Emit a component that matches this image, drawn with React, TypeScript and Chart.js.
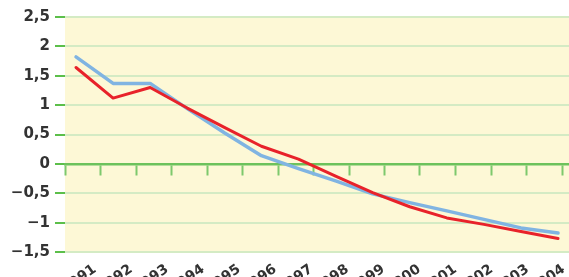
import React, { useEffect, useRef } from 'react';
import { Chart, registerables } from 'chart.js';

Chart.register(...registerables);

// ---- data ----
const years = [1991, 1992, 1993, 1994, 1995, 1996, 1997, 1998, 1999, 2000, 2001, 2002, 2003, 2004];
const yearLabels = years.map(String);
const seriesRed = [1.64, 1.12, 1.30, 0.95, 0.62, 0.30, 0.08, -0.21, -0.49, -0.73, -0.92, -1.03, -1.15, -1.27];
const seriesBlue = [1.82, 1.37, 1.37, 0.94, 0.53, 0.14, -0.08, -0.29, -0.51, -0.66, -0.80, -0.945, -1.09, -1.175];
const yMin = -1.5;
const yMax = 2.5;
const yStep = 0.5;

const FONT = '"DejaVu Sans", "Liberation Sans", Arial, sans-serif';

const fmt = (v: number) => {
  const s = String(Math.abs(Math.round(v * 10) / 10)).replace('.', ',');
  return v < 0 ? '\u2212' + s : s;
};

const bgPlugin = {
  id: 'plotBg',
  beforeDraw(chart: any) {
    const { ctx, chartArea } = chart;
    if (!chartArea) return;
    ctx.save();
    ctx.fillStyle = '#fdf8d6';
    ctx.fillRect(chartArea.left, chartArea.top, chartArea.right - chartArea.left, chartArea.bottom - chartArea.top);
    ctx.restore();
  },
};

const noPad = (s: any) => {
  s.paddingLeft = 0;
  s.paddingRight = 0;
  s.paddingTop = 0;
  s.paddingBottom = 0;
};

export default function App() {
  const ref = useRef<HTMLCanvasElement | null>(null);

  useEffect(() => {
    document.body.style.margin = '0';
    const canvas = ref.current;
    if (!canvas) return;
    const n = years.length;
    const chart = new Chart(canvas, {
      type: 'line',
      data: {
        datasets: [
          {
            label: 'red',
            data: years.map((y, i) => ({ x: y, y: seriesRed[i] })),
            borderColor: '#e8222a',
            borderWidth: 3,
            pointRadius: 0,
            tension: 0,
            borderJoinStyle: 'round',
            borderCapStyle: 'round',
            xAxisID: 'x',
            yAxisID: 'y',
          },
          {
            label: 'blue',
            data: years.map((y, i) => ({ x: y, y: seriesBlue[i] })),
            borderColor: '#80b4e2',
            borderWidth: 3.5,
            pointRadius: 0,
            tension: 0,
            borderJoinStyle: 'round',
            borderCapStyle: 'round',
            xAxisID: 'x',
            yAxisID: 'y',
          },
        ],
      },
      options: {
        responsive: false,
        animation: false,
        devicePixelRatio: 1,
        layout: { padding: { top: 17, left: 0, right: 0, bottom: 0 }, autoPadding: false },
        plugins: { legend: { display: false }, tooltip: { enabled: false } },
        scales: {
          x: {
            type: 'linear',
            display: false,
            min: years[0] - 11 / 37.08,
            max: years[0] + 493 / 37.08,
            afterFit: noPad,
          },
          xt: {
            type: 'linear',
            position: { y: 0 },
            min: 0,
            max: 504 / 35.5,
            afterBuildTicks: (s: any) => {
              s.ticks = Array.from({ length: n + 1 }, (_, i) => ({ value: i }));
            },
            afterFit: noPad,
            ticks: { display: false },
            grid: {
              drawOnChartArea: false,
              drawTicks: true,
              tickLength: 10,
              tickColor: '#7dc96d',
              tickWidth: 2,
            },
            border: { display: true, color: '#6cc25c', width: 2.5 },
          },
          xl: {
            type: 'linear',
            position: 'bottom',
            min: -30 / 36.05,
            max: (569 - 95) / 36.05,
            afterBuildTicks: (s: any) => {
              s.ticks = yearLabels.map((_, i) => ({ value: i }));
            },
            afterFit: (s: any) => {
              s.height = 25;
              noPad(s);
            },
            grid: { display: false },
            border: { display: false },
            ticks: {
              autoSkip: false,
              minRotation: 35,
              maxRotation: 35,
              padding: 1,
              color: '#333333',
              font: { family: FONT, size: 14, weight: 'bold' },
              callback: (v: any) => yearLabels[Math.round(Number(v))] ?? '',
            },
          },
          y: {
            type: 'linear',
            position: 'left',
            min: yMin,
            max: yMax,
            afterFit: (s: any) => {
              s.width = 65;
              noPad(s);
            },
            ticks: {
              stepSize: yStep,
              padding: 5,
              color: '#333333',
              font: { family: FONT, size: 15, weight: 'bold' },
              callback: (v: any) => fmt(Number(v)),
            },
            grid: {
              color: '#d4ebc4',
              lineWidth: 2,
              drawTicks: true,
              tickLength: 10,
              tickColor: '#5cbf4a',
              tickWidth: 2,
            },
            border: { display: false },
          },
        },
      },
      plugins: [bgPlugin],
    } as any);
    return () => chart.destroy();
  }, []);

  return (
    <div style={{ position: 'absolute', left: 0, top: 0, width: 569, height: 277 }}>
      <canvas ref={ref} width={569} height={277} />
    </div>
  );
}
